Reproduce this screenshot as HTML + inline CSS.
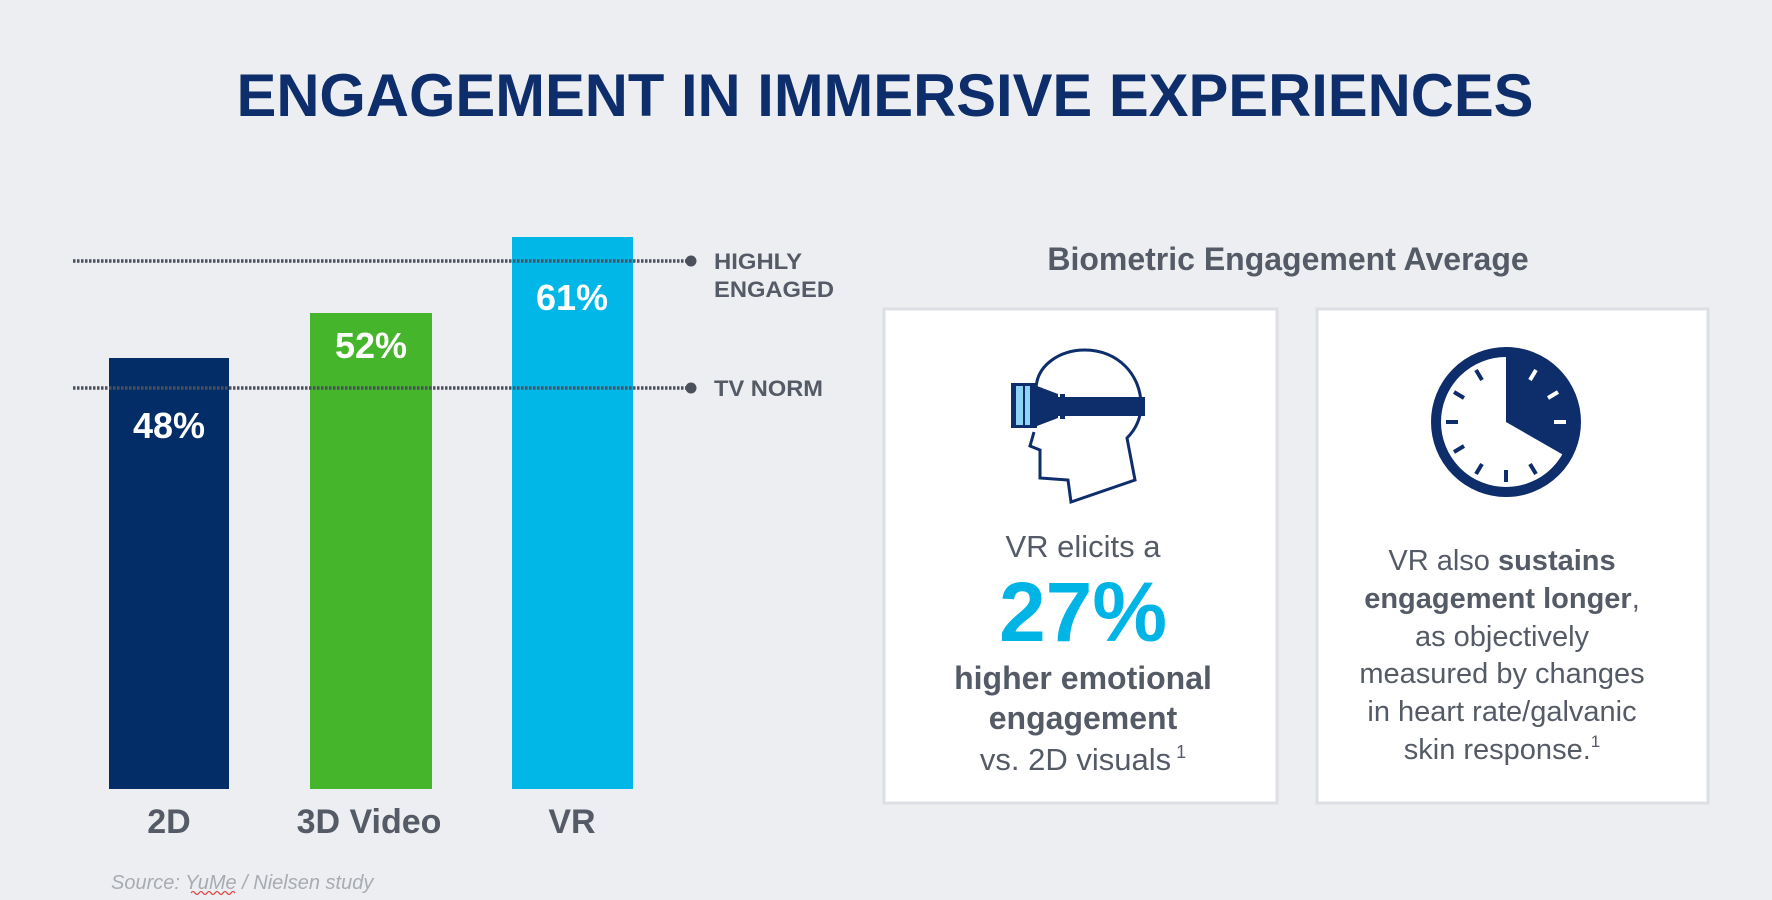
<!DOCTYPE html>
<html><head><meta charset="utf-8"><style>
html,body{margin:0;padding:0;background:#eceef1;}
svg{display:block;font-family:"Liberation Sans",Arial,sans-serif;}
</style></head><body>
<svg width="1772" height="900" viewBox="0 0 1772 900" xmlns="http://www.w3.org/2000/svg">
<rect width="1772" height="900" fill="#eceef1"/>
<text x="885" y="116" text-anchor="middle" font-size="60" font-weight="bold" fill="#0d2d6b" textLength="1297" lengthAdjust="spacingAndGlyphs">ENGAGEMENT IN IMMERSIVE EXPERIENCES</text>
<rect x="109" y="358" width="120" height="431" fill="#022d66"/>
<rect x="310" y="313" width="122" height="476" fill="#45b52b"/>
<rect x="512" y="237" width="121" height="552" fill="#00b7e8"/>
<line x1="73" y1="261" x2="688" y2="261" stroke="#4a505c" stroke-width="3.5" stroke-dasharray="2.5,1.5"/>
<circle cx="691" cy="261" r="5.5" fill="#4a505c"/>
<line x1="73" y1="388" x2="688" y2="388" stroke="#4a505c" stroke-width="3.5" stroke-dasharray="2.5,1.5"/>
<circle cx="691" cy="388" r="5.5" fill="#4a505c"/>
<g font-size="22" font-weight="bold" fill="#555b66">
<text x="714" y="269" textLength="88" lengthAdjust="spacingAndGlyphs">HIGHLY</text>
<text x="714" y="297" textLength="120" lengthAdjust="spacingAndGlyphs">ENGAGED</text>
<text x="714" y="396" textLength="109" lengthAdjust="spacingAndGlyphs">TV NORM</text>
</g>
<g font-size="36" font-weight="bold" fill="#fff" text-anchor="middle">
<text x="169" y="438">48%</text>
<text x="371" y="358">52%</text>
<text x="572" y="310">61%</text>
</g>
<g font-size="34" font-weight="bold" fill="#555b66" text-anchor="middle">
<text x="169" y="833">2D</text>
<text x="369" y="833">3D Video</text>
<text x="572" y="833">VR</text>
</g>
<text x="111" y="889" font-size="20" font-style="italic" fill="#a8abb0">Source: YuMe / Nielsen study</text>
<path d="M191 893 q2 -3 4 0 q2 3 4 0 q2 -3 4 0 q2 3 4 0 q2 -3 4 0 q2 3 4 0 q2 -3 4 0 q2 3 4 0 q2 -3 4 0 q2 3 4 0 q2 -3 4 0" stroke="#e04040" stroke-width="1.2" fill="none"/>
<text x="1288" y="270" text-anchor="middle" font-size="32" font-weight="bold" fill="#555b66">Biometric Engagement Average</text>
<rect x="884" y="309" width="393" height="494" fill="#fff" stroke="#dcdfe3" stroke-width="3"/>
<rect x="1317" y="309" width="391" height="494" fill="#fff" stroke="#dcdfe3" stroke-width="3"/>
<g fill="none" stroke="#0d2d6b" stroke-width="3">
<path d="M1036 390 C1036 365 1060 350 1085 350 C1118 350 1141 375 1141 405 C1141 422 1133 432 1127 438 L1135 480 L1071 502 L1068 480 L1040 478 L1040 450 L1030 446 L1034 432"/>
</g>
<rect x="1011" y="383" width="26" height="45" fill="#0d2d6b"/>
<rect x="1016" y="386" width="7" height="39" fill="#8fd3f4"/>
<rect x="1025" y="386" width="5" height="39" fill="#8fd3f4"/>
<path d="M1037 386 L1058 394 L1058 418 L1037 426 Z" fill="#0d2d6b"/>
<rect x="1058" y="397" width="87" height="19" fill="#0d2d6b"/>
<rect x="1060" y="394" width="5" height="25" fill="#0d2d6b"/>
<circle cx="1506" cy="422" r="70" fill="#fff" stroke="#0d2d6b" stroke-width="10"/>
<path d="M1506 422 L1506 352 A70 70 0 0 1 1567 457 Z" fill="#0d2d6b"/>
<g stroke="#0d2d6b" stroke-width="4">
<line x1="1446" y1="422" x2="1458" y2="422"/>
<line x1="1506" y1="470" x2="1506" y2="482"/>
<line x1="1454" y1="392" x2="1464" y2="398"/>
<line x1="1476" y1="370" x2="1482" y2="380"/>
<line x1="1454" y1="452" x2="1464" y2="446"/>
<line x1="1476" y1="474" x2="1482" y2="464"/>
<line x1="1536" y1="474" x2="1530" y2="464"/>
</g>
<g stroke="#fff" stroke-width="4">
<line x1="1554" y1="422" x2="1566" y2="422"/>
<line x1="1536" y1="370" x2="1530" y2="380"/>
<line x1="1558" y1="392" x2="1548" y2="398"/>
</g>
<g text-anchor="middle" fill="#555b66">
<text x="1083" y="557" font-size="31">VR elicits a</text>
<text x="1083" y="641" font-size="84" font-weight="bold" fill="#00b4e6">27%</text>
<text x="1083" y="689" font-size="32" font-weight="bold">higher emotional</text>
<text x="1083" y="729" font-size="32" font-weight="bold">engagement</text>
<text x="1083" y="770" font-size="31">vs. 2D visuals<tspan font-size="18" dy="-12"> 1</tspan></text>
</g>
<g text-anchor="middle" fill="#555b66" font-size="29">
<text x="1502" y="570">VR also <tspan font-weight="bold">sustains</tspan></text>
<text x="1502" y="608"><tspan font-weight="bold">engagement longer</tspan>,</text>
<text x="1502" y="646">as objectively</text>
<text x="1502" y="683">measured by changes</text>
<text x="1502" y="721">in heart rate/galvanic</text>
<text x="1502" y="759">skin response.<tspan font-size="17" dy="-12">1</tspan></text>
</g>
</svg>
</body></html>
